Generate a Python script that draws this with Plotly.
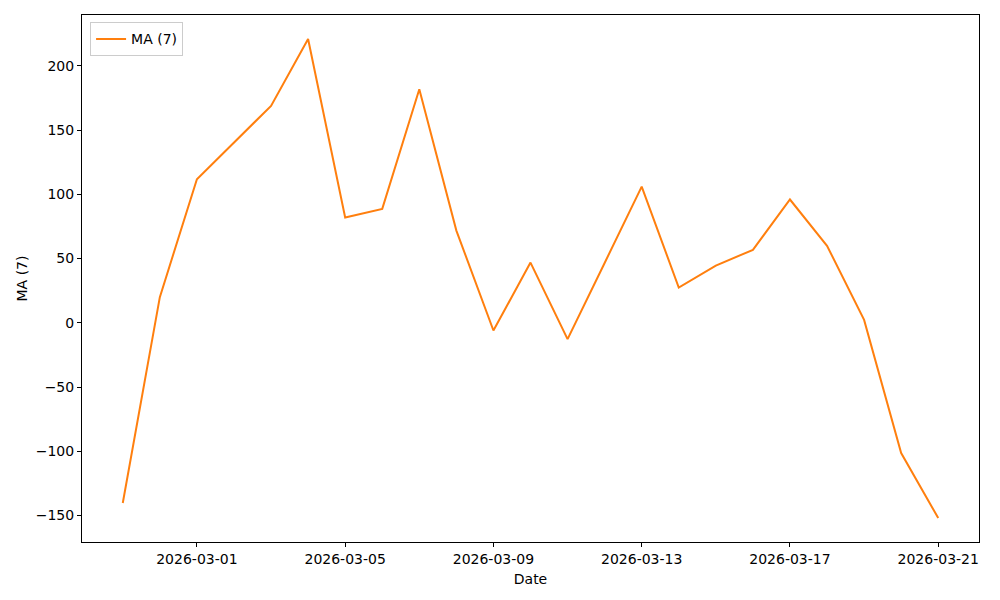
import pandas as pd
import plotly.graph_objects as go

# daily moving average values
dates = pd.date_range("2026-02-27", "2026-03-21", freq="D")
ma7 = [-140.3, 20.0, 111.8, 140.0, 168.9, 221.0, 82.0, 88.7, 181.9, 71.8,
       -6.0, 46.9, -12.7, 46.6, 106.0, 27.5, 44.6, 56.8, 96.0, 60.0,
       2.3, -101.4, -152.0]
tick_dates = ["2026-03-01", "2026-03-05", "2026-03-09", "2026-03-13", "2026-03-17", "2026-03-21"]
y_ticks = [-150, -100, -50, 0, 50, 100, 150, 200]

pad_x = (dates[-1] - dates[0]) * 0.05
lo, hi = min(ma7), max(ma7)
pad_y = (hi - lo) * 0.05

fig = go.Figure()
fig.add_trace(go.Scatter(
    x=dates,
    y=ma7,
    mode="lines",
    name="MA (7)",
    line=dict(color="#ff7f0e", width=2),
))

axis_style = dict(
    showline=True, linecolor="black", linewidth=1, mirror=True,
    ticks="outside", ticklen=4, tickcolor="black",
    showgrid=False, zeroline=False,
    tickfont=dict(size=14, color="black"),
)

fig.update_layout(
    width=1000, height=600,
    paper_bgcolor="white", plot_bgcolor="white",
    font=dict(family="DejaVu Sans", color="black"),
    margin=dict(l=82, r=21, t=15, b=58),
    showlegend=True,
    legend=dict(x=0.009, y=0.986, xanchor="left", yanchor="top",
                bordercolor="#cccccc", borderwidth=1, bgcolor="rgba(255,255,255,0.8)",
                font=dict(size=14)),
    xaxis=dict(
        title=dict(text="Date", font=dict(size=14), standoff=8),
        range=[dates[0] - pad_x, dates[-1] + pad_x],
        tickvals=tick_dates, tickformat="%Y-%m-%d",
        **axis_style,
    ),
    yaxis=dict(
        title=dict(text="MA (7)", font=dict(size=14), standoff=4),
        range=[lo - pad_y, hi + pad_y],
        tickvals=y_ticks,
        **axis_style,
    ),
)

fig.write_html("out.html", config={"displayModeBar": False},
               post_script="document.body.style.margin='0';")
